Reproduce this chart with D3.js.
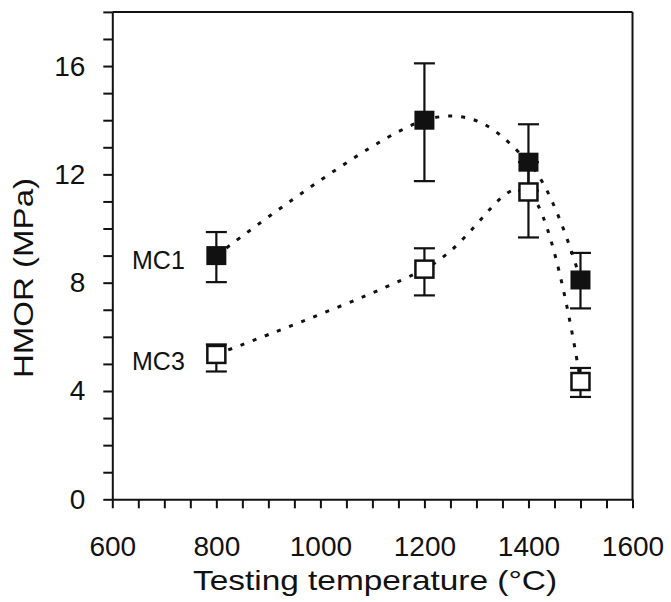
<!DOCTYPE html>
<html><head><meta charset="utf-8">
<script src="https://cdn.jsdelivr.net/npm/d3@7"></script>
<style>
body{margin:0;background:#fff}
svg{display:block}
text{font-family:"Liberation Sans",Arial,Helvetica,sans-serif;fill:#111}
</style>
</head><body>
<svg id="c" width="671" height="602"></svg>
<script>
// ---- data ----
const temps   = [800, 1200, 1400, 1500];
const mc1     = [9.0, 14.0, 12.45, 8.1];
const mc1Low  = [8.02, 11.75, 11.4, 7.05];
const mc1High = [9.87, 16.1, 13.85, 9.1];
const mc3     = [5.35, 8.5, 11.35, 4.35];
const mc3Low  = [4.72, 7.53, 9.67, 3.78];
const mc3High = [5.72, 9.27, 12.45, 4.85];
const seriesNames = ["MC1", "MC3"];
const xTickLabels = [600, 800, 1000, 1200, 1400, 1600];
const yTickLabels = [0, 4, 8, 12, 16];
const xTitle = "Testing temperature (°C)";
const yTitle = "HMOR (MPa)";

const svg = d3.select("#c");
const x = d3.scaleLinear().domain([600, 1600]).range([112.3, 632.5]);
const y = d3.scaleLinear().domain([0, 18]).range([499.3, 11.9]);

// frame (top, right)
svg.append("line").attr("x1", x(600)).attr("x2", x(1600)).attr("y1", y(18)).attr("y2", y(18))
  .attr("stroke", "#111").attr("stroke-width", 2);
svg.append("line").attr("x1", x(1600)).attr("x2", x(1600)).attr("y1", y(0)).attr("y2", y(18))
  .attr("stroke", "#111").attr("stroke-width", 2);

// axes
const xAxis = d3.axisBottom(x).tickValues(d3.range(600, 1601, 50)).tickSize(9).tickSizeOuter(0)
  .tickPadding(28).tickFormat(d => xTickLabels.includes(d) ? d : "");
const gx = svg.append("g").attr("transform", `translate(0,${y(0)})`).call(xAxis);
const yAxis = d3.axisLeft(y).tickValues(d3.range(0, 19, 1)).tickSize(9).tickSizeOuter(0)
  .tickPadding(18).tickFormat(d => yTickLabels.includes(d) ? d : "");
const gy = svg.append("g").attr("transform", `translate(${x(600)},0)`).call(yAxis);
[gx, gy].forEach(g => {
  g.selectAll("path,line").attr("stroke", "#111").attr("stroke-width", 2);
  g.selectAll("text").style("font-size", "28px").attr("fill", "#111");
});

// curves
const line = d3.line().x(d => x(d[0])).y(d => y(d[1])).curve(d3.curveCatmullRom.alpha(0));
[mc1, mc3].forEach(vals => {
  svg.append("path").attr("d", line(temps.map((t, i) => [t, vals[i]])))
    .attr("fill", "none").attr("stroke", "#111").attr("stroke-width", 3)
    .attr("stroke-dasharray", "4,9");
});

// error bars
function errBars(vals, lo, hi) {
  temps.forEach((t, i) => {
    const g = svg.append("g").attr("stroke", "#111").attr("stroke-width", 2.2);
    g.append("line").attr("x1", x(t)).attr("x2", x(t)).attr("y1", y(lo[i])).attr("y2", y(hi[i]));
    [lo[i], hi[i]].forEach(v => g.append("line").attr("x1", x(t) - 10.5).attr("x2", x(t) + 10.5)
      .attr("y1", y(v)).attr("y2", y(v)));
  });
}
errBars(mc1, mc1Low, mc1High);
errBars(mc3, mc3Low, mc3High);

// markers
svg.selectAll("rect.mc1").data(temps).enter().append("rect").attr("class", "mc1")
  .attr("x", (d) => x(d) - 10).attr("y", (d, i) => y(mc1[i]) - 9.5)
  .attr("width", 20).attr("height", 19).attr("fill", "#111");
svg.selectAll("rect.mc3").data(temps).enter().append("rect").attr("class", "mc3")
  .attr("x", (d) => x(d) - 9).attr("y", (d, i) => y(mc3[i]) - 8.5)
  .attr("width", 18).attr("height", 17).attr("fill", "#fff").attr("stroke", "#111").attr("stroke-width", 2.5);

// series labels
svg.append("text").attr("x", 132).attr("y", 269).style("font-size", "25px").text(seriesNames[0]);
svg.append("text").attr("x", 132).attr("y", 370).style("font-size", "25px").text(seriesNames[1]);

// titles
svg.append("text").attr("x", 375).attr("y", 590).attr("text-anchor", "middle")
  .style("font-size", "28px").attr("textLength", 364).attr("lengthAdjust", "spacingAndGlyphs").text(xTitle);
svg.append("text").attr("transform", "translate(33,278) rotate(-90)").attr("text-anchor", "middle")
  .style("font-size", "28px").attr("textLength", 200).attr("lengthAdjust", "spacingAndGlyphs").text(yTitle);
</script>
</body></html>
